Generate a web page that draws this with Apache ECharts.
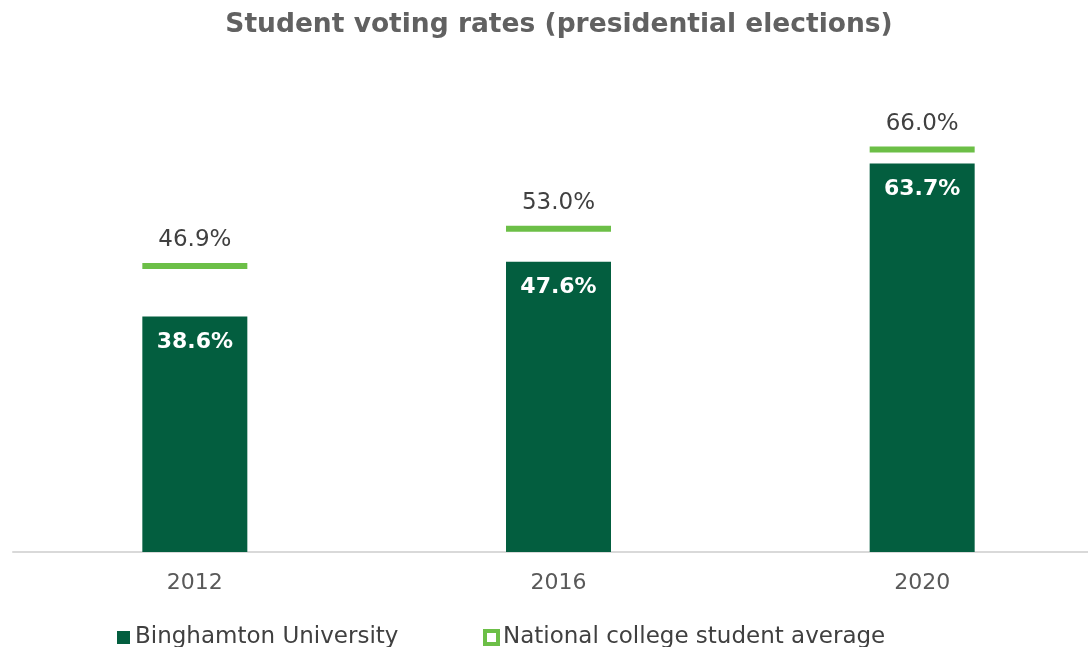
<!DOCTYPE html>
<html>
<head>
<meta charset="utf-8">
<script src="https://cdn.jsdelivr.net/npm/echarts@6/dist/echarts.min.js"></script>
<style>html,body{margin:0;padding:0;background:#fff}#c{width:1088px;height:647px}</style>
</head>
<body>
<div id="c"></div>
<script>
const years = ['2012', '2016', '2020'];
const binghamton = [38.6, 47.6, 63.7];
const national = [46.9, 53.0, 66.0];
const titleText = 'Student voting rates (presidential elections)';
const seriesNames = ['Binghamton University', 'National college student average'];

const DARK = '#035E3F';
const LIGHT = '#6CBF47';
const FONT = 'DejaVu Sans';

const legendText = { fontFamily: FONT, fontSize: 23, color: '#404040', padding: [0, 0, 0, 0] };

const chart = echarts.init(document.getElementById('c'));
chart.setOption({
  backgroundColor: '#fff',
  animation: false,
  textStyle: { fontFamily: FONT },
  title: {
    text: titleText,
    left: 554, top: 7, textAlign: 'center',
    textStyle: { fontFamily: FONT, fontSize: 26.5, fontWeight: 'bold', color: '#616161' }
  },
  legend: [
    {
      left: 112, top: 621,
      itemWidth: 13, itemHeight: 13,
      textStyle: legendText,
      data: [{ name: seriesNames[0], icon: 'rect', itemStyle: { color: DARK } }]
    },
    {
      left: 478, top: 621,
      itemWidth: 13, itemHeight: 13,
      textStyle: legendText,
      data: [{ name: seriesNames[1], icon: 'rect', itemStyle: { color: '#fff', borderColor: LIGHT, borderWidth: 4, opacity: 1 } }]
    }
  ],
  grid: { left: 13, right: -16, top: 64, bottom: 95, outerBoundsMode: 'none', containLabel: false },
  xAxis: {
    type: 'category', data: years,
    axisLine: { lineStyle: { color: '#d9d9d9', width: 2 } },
    axisTick: { show: false },
    axisLabel: { fontFamily: FONT, fontSize: 22, color: '#595959', margin: 20 }
  },
  yAxis: { type: 'value', min: 0, max: 80, show: false, splitLine: { show: false } },
  series: [
    {
      name: seriesNames[0], type: 'bar', data: binghamton, barWidth: 105,
      itemStyle: { color: DARK },
      label: {
        show: true, position: 'insideTop', distance: 15,
        formatter: p => p.value.toFixed(1) + '%',
        color: '#fff', fontFamily: FONT, fontSize: 22, fontWeight: 'bold'
      },
      z: 2
    },
    {
      name: seriesNames[1], type: 'scatter', data: national,
      symbol: 'rect', symbolSize: [105, 6],
      itemStyle: { color: LIGHT, opacity: 1 },
      label: {
        show: true, position: 'top', distance: 11,
        formatter: p => p.value.toFixed(1) + '%',
        color: '#404040', fontFamily: FONT, fontSize: 23
      },
      z: 3
    }
  ]
});
</script>
</body>
</html>
